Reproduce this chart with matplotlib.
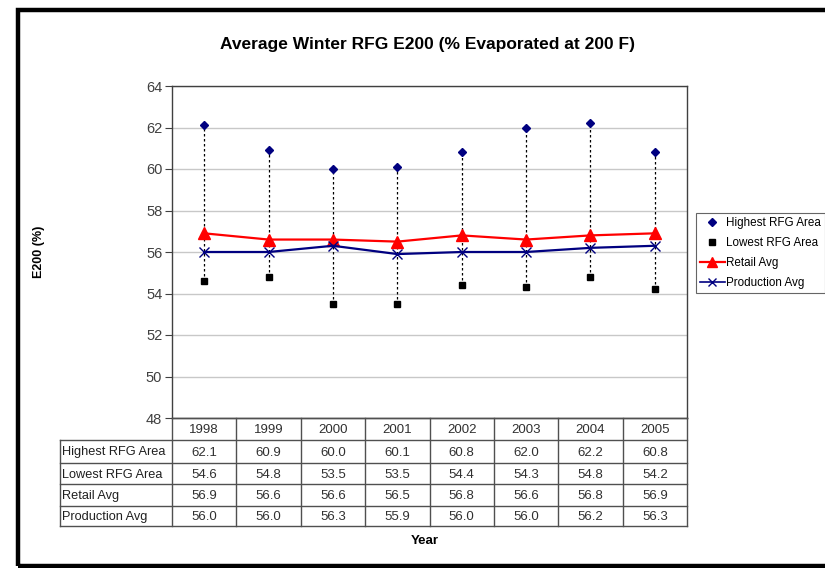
import matplotlib
matplotlib.use("Agg")
import matplotlib.pyplot as plt
from matplotlib.patches import Rectangle
from matplotlib.lines import Line2D

plt.rcParams['font.family'] = ['Liberation Sans', 'DejaVu Sans']

years = ['1998', '1999', '2000', '2001', '2002', '2003', '2004', '2005']
highest = [62.1, 60.9, 60.0, 60.1, 60.8, 62.0, 62.2, 60.8]
lowest = [54.6, 54.8, 53.5, 53.5, 54.4, 54.3, 54.8, 54.2]
retail = [56.9, 56.6, 56.6, 56.5, 56.8, 56.6, 56.8, 56.9]
production = [56.0, 56.0, 56.3, 55.9, 56.0, 56.0, 56.2, 56.3]
series_names = ['Highest RFG Area', 'Lowest RFG Area', 'Retail Avg', 'Production Avg']
yticks = [48, 50, 52, 54, 56, 58, 60, 62, 64]

W, H = 825, 568
fig = plt.figure(figsize=(W / 100, H / 100), dpi=100)
fig.patch.set_facecolor('white')

def fx(px):
    return px / W

def fy(py):
    return 1 - py / H

# plot area
L, R, T, B = 172, 687, 86, 418
ax = fig.add_axes([fx(L), fy(B), fx(R - L), (B - T) / H])
x = list(range(len(years)))
ax.set_xlim(-0.5, len(years) - 0.5)
ax.set_ylim(48, 64)
ax.set_yticks(yticks)
ax.set_xticks([])
ax.grid(axis='y', color='#c8c8c8', linewidth=1)
ax.set_axisbelow(True)
for s in ax.spines.values():
    s.set_color('#404040')
    s.set_linewidth(1)
ax.tick_params(axis='y', direction='out', length=5, colors='#404040',
               labelsize=10.5, labelcolor='#404040', pad=2)

# high-low lines
ax.vlines(x, lowest, highest, colors='black', linestyles=(0, (2, 2)), linewidth=0.9, zorder=2)
ax.plot(x, highest, linestyle='none', marker='D', markersize=4, color='#000080', zorder=4)
ax.plot(x, lowest, linestyle='none', marker='s', markersize=4.5, color='black', zorder=4)
ax.plot(x, retail, color='#ff0000', linewidth=1.6, marker='^', markersize=8.5, zorder=5)
ax.plot(x, production, color='#000080', linewidth=1.6, marker='x', markersize=7.5,
        markeredgewidth=1, zorder=5)

ax.set_ylabel('E200 (%)', fontsize=9, fontweight='bold')
ax.yaxis.set_label_coords((45 - L) / (R - L), 1 - (252 - T) / (B - T))

# data table drawn below the plot
tleft = 60
row_edges = [418, 440, 463, 484, 506, 526]
col_w = (R - L) / len(years)
tab = fig.add_axes([fx(tleft), fy(row_edges[-1]), fx(R - tleft), (row_edges[-1] - row_edges[0]) / H])
tab.set_xlim(tleft, R)
tab.set_ylim(row_edges[-1], row_edges[0])
tab.axis('off')
lc = '#505050'
for i, yy in enumerate(row_edges):
    x0 = L if i == 0 else tleft
    tab.plot([x0, R], [yy, yy], color=lc, linewidth=1, clip_on=False)
tab.plot([tleft, tleft], [row_edges[1], row_edges[-1]], color=lc, linewidth=1, clip_on=False)
for j in range(len(years) + 1):
    xx = L + j * col_w
    tab.plot([xx, xx], [row_edges[0], row_edges[-1]], color=lc, linewidth=1, clip_on=False)

rows = [highest, lowest, retail, production]
for j, yr in enumerate(years):
    cx = L + (j + 0.5) * col_w
    tab.text(cx, (row_edges[0] + row_edges[1]) / 2 + 1, yr, ha='center', va='center',
             fontsize=9.5, color='#303030')
    for i, vals in enumerate(rows):
        cy = (row_edges[i + 1] + row_edges[i + 2]) / 2 + 1
        tab.text(cx, cy, f'{vals[j]:.1f}', ha='center', va='center', fontsize=9.5, color='#303030')
for i, name in enumerate(series_names):
    cy = (row_edges[i + 1] + row_edges[i + 2]) / 2 + 1
    tab.text(tleft + 2, cy, name, ha='left', va='center', fontsize=9.2, color='#202020')

fig.text(fx(425), fy(541), 'Year', ha='center', va='center', fontsize=9.5, fontweight='bold')
fig.text(fx(427), fy(45), 'Average Winter RFG E200 (% Evaporated at 200 F)', ha='center',
         va='center', fontsize=12.5, fontweight='bold')

# legend
handles = [
    Line2D([], [], linestyle='none', marker='D', markersize=4, color='#000080'),
    Line2D([], [], linestyle='none', marker='s', markersize=4.5, color='black'),
    Line2D([], [], color='#ff0000', linewidth=1.6, marker='^', markersize=7),
    Line2D([], [], color='#000080', linewidth=1.2, marker='x', markersize=6),
]
leg = fig.legend(handles, series_names, loc='upper left', bbox_to_anchor=(fx(696), fy(213)),
                 fontsize=8.4, frameon=True, fancybox=False, edgecolor='#404040',
                 borderpad=0.35, labelspacing=0.68, handlelength=2.1, handletextpad=0.15,
                 borderaxespad=0)
leg.get_frame().set_linewidth(0.8)

# outer black border (left, top, bottom)
fig.add_artist(Rectangle((fx(18), fy(566)), 1.2, (566 - 10) / H, transform=fig.transFigure,
                         fill=False, edgecolor='black', linewidth=3.2, clip_on=False))

fig.savefig('out.png', dpi=100, facecolor='white')
